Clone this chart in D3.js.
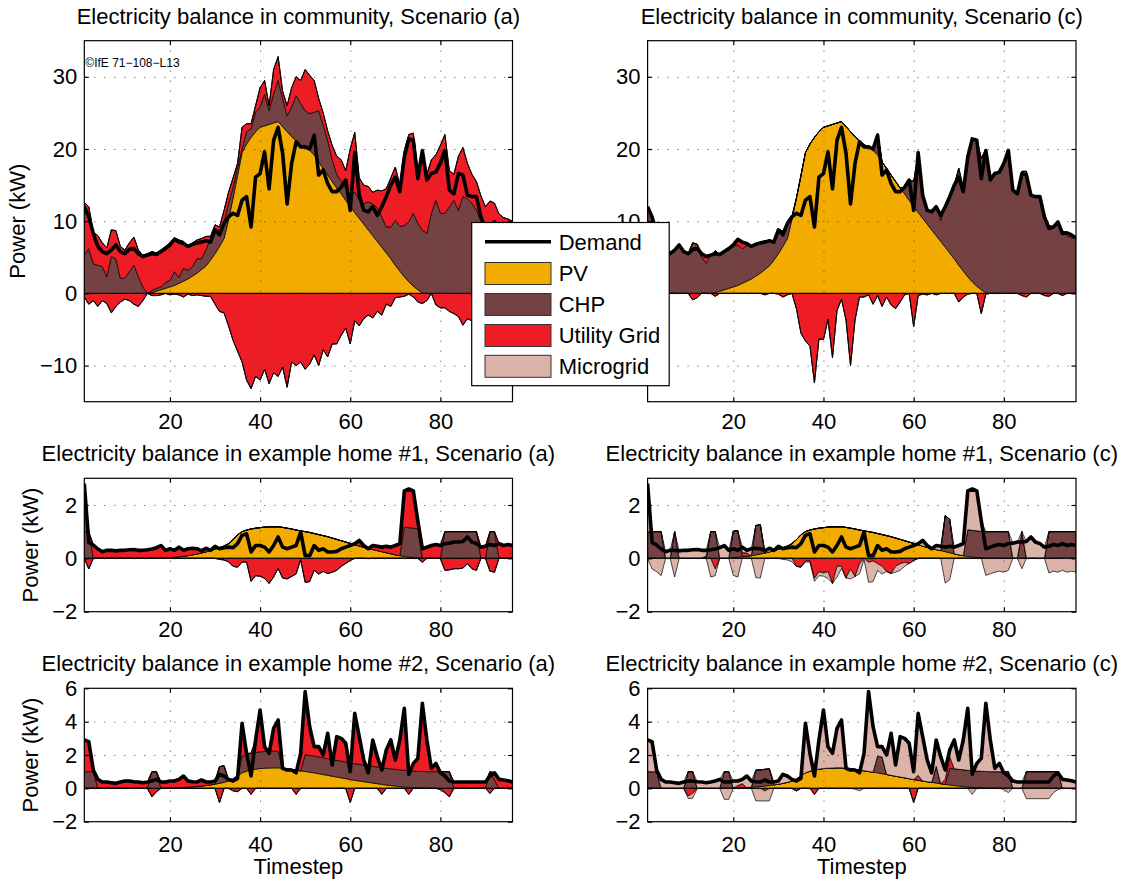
<!DOCTYPE html>
<html>
<head>
<meta charset="utf-8">
<script src="https://cdn.jsdelivr.net/npm/d3@7"></script>
<style>
  body { margin: 0; background: #fff; }
  svg { display: block; font-family: "Liberation Sans", Arial, Helvetica, sans-serif; }
</style>
</head>
<body>
<svg id="chart" width="1125" height="882"></svg>
<script>
// ---- data (timesteps 1..96, kW) ----
const timesteps = d3.range(1, 97);
const xTicks = [20, 40, 60, 80];
const noFlow = new Array(96).fill(0);

// community
const demandComm = [
  12.0, 10.6, 8.3, 6.5, 5.8, 5.5, 6.0, 6.7, 5.8, 5.5,
  6.1, 6.2, 5.5, 5.1, 5.3, 5.5, 5.4, 5.8, 6.2, 6.7,
  7.5, 7.1, 6.9, 6.5, 6.8, 7.0, 7.1, 7.3, 7.1, 8.8,
  8.1, 9.7, 10.6, 11.1, 10.8, 12.9, 13.4, 9.2, 16.1, 16.6,
  19.6, 14.5, 21.2, 23.0, 19.4, 12.4, 18.0, 21.0, 20.3, 20.3,
  20.0, 21.9, 16.4, 17.1, 15.2, 14.1, 14.1, 14.7, 15.7, 11.5,
  19.5, 13.6, 11.5, 11.3, 12.0, 10.8, 12.0, 13.4, 15.0, 16.1,
  14.1, 18.9, 21.4, 21.2, 15.9, 19.8, 15.7, 16.6, 16.8, 18.0,
  19.8, 14.3, 13.8, 16.6, 16.4, 13.6, 13.4, 13.4, 10.6, 9.0,
  9.2, 9.9, 8.3, 8.4, 8.1, 7.7];
const pvComm = [
  0, 0, 0, 0, 0, 0, 0, 0, 0, 0,
  0, 0, 0, 0, 0, 0.1, 0.3, 0.5, 0.7, 0.9,
  1.1, 1.4, 1.7, 2.0, 2.4, 2.8, 3.3, 3.8, 4.6, 5.5,
  6.5, 7.6, 10.2, 13.2, 16.3, 19.5, 20.7, 21.6, 22.4, 23.0,
  23.2, 23.4, 23.6, 23.8, 23.1, 22.4, 21.7, 21.1, 20.6, 20.2,
  19.8, 19.2, 18.2, 17.3, 16.4, 15.5, 14.6, 13.8, 12.9, 12.0,
  11.2, 10.4, 9.6, 8.8, 8.0, 7.2, 6.4, 5.6, 4.8, 3.9,
  3.1, 2.3, 1.6, 1.0, 0.5, 0.1, 0, 0, 0, 0,
  0, 0, 0, 0, 0, 0, 0, 0, 0, 0,
  0, 0, 0, 0, 0, 0];
const chpCommA = [
  5.3, 6.2, 4.1, 3.9, 3.7, 2.3, 5.1, 4.8, 2.1, 2.1,
  3.0, 3.9, 2.3, 0.9, 0, 0.3, 0.4, 0.4, 0.8, 0.9,
  1.9, 0.8, 1.8, 1.2, 1.3, 2.0, 1.5, 2.2, 3.0, 3.0,
  2.3, 2.3, 2.2, 1.5, 1.2, 0.5, 1.7, 1.2, 2.7, 2.8,
  4.4, 1.9, 4.0, 5.7, 3.9, 2.2, 4.1, 6.3, 5.7, 5.1,
  5.1, 5.9, 7.1, 6.0, 4.8, 3.0, 1.9, 1.7, 1.6, 1.4,
  2.9, 2.5, 2.8, 3.9, 4.4, 4.6, 4.2, 3.6, 4.4, 6.2,
  6.2, 7.1, 8.3, 10.1, 9.2, 8.7, 8.3, 11.1, 12.9, 11.1,
  11.1, 12.0, 12.9, 11.5, 13.4, 13.1, 12.5, 11.5, 10.0, 8.5,
  8.5, 9.0, 7.5, 7.5, 7.2, 7.0];
const gridInCommA = [
  7.3, 5.8, 4.4, 4.1, 3.3, 4.0, 3.7, 3.9, 4.4, 3.9,
  4.0, 3.9, 3.7, 4.4, 5.5, 5.4, 4.9, 5.1, 5.0, 5.2,
  4.7, 5.2, 3.7, 3.4, 3.3, 2.6, 2.8, 1.9, 0.3, 1.0,
  0.4, 1.6, 1.6, 1.3, 0.5, 3.0, 1.1, 0.7, 0.9, 2.7,
  1.9, 0.7, 3.4, 3.3, 1.0, 1.4, 2.7, 2.6, 3.2, 5.7,
  5.3, 4.4, 1.7, 1.7, 1.3, 2.0, 2.5, 3.0, 2.5, 6.6,
  8.2, 3.1, 2.6, 2.1, 1.6, 2.5, 3.6, 5.3, 6.8, 7.4,
  5.7, 10.4, 12.1, 11.1, 7.3, 10.7, 8.2, 7.4, 6.3, 9.4,
  10.9, 5.0, 3.6, 7.5, 6.8, 4.9, 4.0, 4.0, 3.5, 3.5,
  4.3, 3.5, 3.5, 3.0, 3.1, 3.0];
const gridOutCommA = [
  -0.5, -1.5, -1.0, -1.8, -1.0, -1.4, -2.7, -1.8, -1.2, -0.8,
  -1.0, -1.5, -1.8, -1.0, 0, -0.3, -0.3, -0.2, 0, -0.2,
  -0.1, -0.2, -0.5, -0.1, -0.3, -0.2, -0.3, -0.4, -0.4, -1.5,
  -2.5, -2.7, -4.5, -6.5, -8.0, -9.5, -12.0, -13.2, -11.5, -12.0,
  -10.5, -12.5, -11.0, -11.5, -10.2, -13.0, -9.5, -10.0, -9.5, -10.5,
  -9.8, -8.5, -10.0, -7.8, -8.8, -7.0, -7.0, -5.8, -4.8, -7.0,
  -3.8, -4.5, -3.5, -3.0, -3.4, -2.5, -3.0, -1.5, -1.8, -0.6,
  -0.5, -0.4, -0.1, -0.5, -1.2, -1.4, -1.0, 0, -1.6, -2.0,
  -2.0, -2.5, -2.8, -3.2, -4.4, -3.5, -3.8, -4.5, -3.5, -3.0,
  -2.5, -2.0, -1.5, -1.2, -1.0, -0.8];
const chpCommC = [
  11.5, 10.6, 8.3, 6.5, 5.9, 5.5, 6.0, 6.7, 5.8, 5.5,
  7.0, 6.8, 5.0, 4.2, 5.3, 5.8, 5.1, 5.3, 5.5, 5.8,
  5.6, 4.8, 4.9, 4.5, 4.4, 4.2, 4.0, 3.5, 2.5, 3.4,
  2.1, 2.3, 0.4, 0, 0, 0, 0, 0, 0, 0,
  0, 0, 0, 0, 0, 0, 0, 0, 0, 0.1,
  0.2, 3.0, 0, 0, 0, 0, 0, 0.9, 2.8, 3.5,
  7.8, 3.3, 2.1, 2.5, 4.2, 2.9, 5.6, 7.8, 10.2, 13.4,
  11.5, 16.7, 19.8, 20.2, 18.2, 19.8, 15.7, 16.6, 16.8, 18.0,
  19.8, 14.3, 13.8, 16.9, 16.9, 13.6, 13.4, 13.4, 10.9, 9.4,
  9.2, 9.9, 8.6, 8.0, 7.7, 7.7];
const gridInCommC = [
  0.5, 0, 0, 0, 0, 0, 0, 0, 0, 0,
  0, 0, 0.5, 0.9, 0, 0, 0, 0, 0, 0,
  0.8, 0.9, 0.3, 0, 0, 0, 0, 0, 0, 0,
  0, 0, 0, 0, 0, 0, 0, 0, 0, 0,
  0, 0, 0, 0, 0, 0, 0, 0, 0, 0,
  0, 0, 0, 0, 0, 0, 0, 0, 0, 0,
  0, 0, 0, 0, 0, 0.7, 0, 0, 0, 0,
  0, 0, 0, 0, 0, 0, 0, 0, 0, 0,
  0, 0, 0, 0, 0, 0, 0, 0, 0, 0,
  0, 0, 0, 0.4, 0.4, 0];
const gridOutCommC = [
  0, 0, 0, 0, -0.1, 0, 0, 0, 0, 0,
  -0.9, -0.6, 0, 0, 0, -0.4, 0, 0, 0, 0,
  0, 0, 0, 0, 0, 0, -0.2, 0, 0, -0.1,
  -0.5, -0.2, 0, -2.1, -5.5, -6.6, -7.3, -12.4, -6.3, -6.4,
  -3.6, -8.9, -2.4, -0.8, -3.7, -10.0, -3.7, -0.5, -0.5, -0.2,
  -1.5, -0.3, -1.8, -0.5, -1.6, -2.1, -1.2, -0.2, 0, -4.6,
  -0.3, -0.1, -0.2, 0, -0.2, 0, 0, 0, 0, -1.2,
  -0.5, -0.1, 0, 0, -2.8, -0.1, 0, 0, 0, 0,
  0, 0, 0, -0.3, -0.5, 0, 0, 0, -0.3, -0.4,
  0, 0, -0.3, 0, 0, 0];

// example home #1
const demandH1 = [
  2.8, 0.6, 0.5, 0.35, 0.25, 0.3, 0.3, 0.28, 0.3, 0.3,
  0.32, 0.33, 0.3, 0.3, 0.32, 0.35, 0.4, 0.48, 0.3, 0.36,
  0.3, 0.42, 0.3, 0.36, 0.38, 0.36, 0.28, 0.38, 0.3, 0.45,
  0.36, 0.4, 0.42, 0.4, 0.55, 0.86, 0.92, 0.24, 0.48, 0.48,
  0.42, 0.24, 0.48, 0.8, 0.42, 0.36, 0.42, 0.48, 0.98, 0.1,
  0.1, 0.48, 0.3, 0.36, 0.24, 0.24, 0.26, 0.36, 0.42, 0.48,
  0.55, 0.67, 0.48, 0.36, 0.48, 0.45, 0.42, 0.45, 0.42, 0.48,
  0.55, 2.53, 2.6, 2.53, 1.4, 0.36, 0.42, 0.48, 0.52, 0.48,
  0.55, 0.57, 0.61, 0.61, 0.63, 0.8, 0.61, 0.55, 0.42, 0.45,
  0.52, 0.48, 0.55, 0.48, 0.52, 0.48];
const pvH1 = [
  0, 0, 0, 0, 0, 0, 0, 0, 0, 0,
  0, 0, 0, 0, 0, 0, 0, 0, 0, 0.02,
  0.04, 0.06, 0.08, 0.1, 0.13, 0.16, 0.2, 0.24, 0.29, 0.34,
  0.4, 0.46, 0.55, 0.7, 0.88, 1.0, 1.06, 1.1, 1.13, 1.15,
  1.17, 1.18, 1.18, 1.18, 1.16, 1.13, 1.1, 1.06, 1.03, 1.0,
  0.97, 0.93, 0.89, 0.85, 0.81, 0.76, 0.71, 0.66, 0.61, 0.56,
  0.51, 0.46, 0.41, 0.37, 0.33, 0.29, 0.25, 0.21, 0.17, 0.13,
  0.1, 0.07, 0.05, 0.03, 0.01, 0, 0, 0, 0, 0,
  0, 0, 0, 0, 0, 0, 0, 0, 0, 0,
  0, 0, 0, 0, 0, 0];
const chpH1A = [
  1.0, 1.0, 0, 0, 0, 0, 0, 0, 0, 0,
  0, 0, 0, 0, 0, 0, 0, 0, 0, 0,
  0, 0, 0, 0, 0, 0, 0, 0, 0, 0,
  0, 0, 0, 0, 0, 0, 0, 0, 0, 0,
  0, 0, 0, 0, 0, 0, 0, 0, 0, 0,
  0, 0, 0, 0, 0, 0, 0, 0, 0, 0,
  0, 0, 0, 0, 0, 0, 0, 0, 0, 0,
  0, 1.1, 1.1, 1.1, 1.1, 0, 0, 0, 0, 0,
  1.0, 1.0, 1.0, 1.0, 1.0, 1.0, 1.0, 1.0, 0, 0,
  1.0, 1.0, 0, 0, 0, 0];
const gridInH1A = [
  1.8, 0, 0.5, 0.35, 0.25, 0.3, 0.3, 0.28, 0.3, 0.3,
  0.32, 0.33, 0.3, 0.3, 0.32, 0.35, 0.4, 0.48, 0.3, 0.34,
  0.26, 0.36, 0.22, 0.26, 0.25, 0.2, 0.08, 0.14, 0.01, 0.11,
  0, 0, 0, 0, 0, 0, 0, 0, 0, 0,
  0, 0, 0, 0, 0, 0, 0, 0, 0, 0,
  0, 0, 0, 0, 0, 0, 0, 0, 0, 0,
  0.04, 0.21, 0.07, 0, 0.15, 0.16, 0.17, 0.24, 0.25, 0.35,
  0.45, 1.36, 1.45, 1.4, 0.29, 0.36, 0.42, 0.48, 0.52, 0.48,
  0, 0, 0, 0, 0, 0, 0, 0, 0.42, 0.45,
  0, 0, 0.55, 0.48, 0.52, 0.48];
const gridOutH1A = [
  0, -0.4, 0, 0, 0, 0, 0, 0, 0, 0,
  0, 0, 0, 0, 0, 0, 0, 0, 0, 0,
  0, 0, 0, 0, 0, 0, 0, 0, 0, 0,
  -0.04, -0.06, -0.13, -0.3, -0.33, -0.14, -0.14, -0.86, -0.65, -0.67,
  -0.75, -0.94, -0.7, -0.38, -0.74, -0.77, -0.68, -0.58, -0.05, -0.9,
  -0.87, -0.45, -0.59, -0.49, -0.57, -0.52, -0.45, -0.3, -0.19, -0.08,
  0, 0, 0, -0.01, 0, 0, 0, 0, 0, 0,
  0, 0, 0, 0, 0, -0.15, 0, 0, 0, 0,
  -0.45, -0.43, -0.39, -0.39, -0.37, -0.2, -0.39, -0.45, 0, 0,
  -0.48, -0.52, 0, 0, 0, 0];
const chpH1C = [
  1.0, 1.0, 1.0, 1.0, 0, 0, 1.0, 0, 0, 0,
  0, 0, 0, 0, 1.0, 1.0, 0, 0, 0, 1.0,
  1.0, 0, 0, 0, 1.1, 1.1, 0, 0, 0, 0,
  0, 0, 0, 0, 0, 0, 0, 0, 0, 0,
  0, 0, 0, 0, 0, 0, 0, 0, 0, 0,
  0, 0, 0, 0, 0, 0, 0, 0, 0, 0,
  0, 0, 0, 0, 0, 0, 1.35, 1.25, 0, 0,
  0, 1.0, 1.0, 1.0, 1.0, 1.0, 1.0, 1.0, 1.0, 1.0,
  1.0, 0, 0, 1.0, 0, 0, 0, 0, 0, 1.0,
  1.0, 1.0, 1.0, 1.0, 1.0, 1.0];
const gridInH1C = [
  0, 0, 0, 0, 0, 0, 0, 0, 0, 0,
  0, 0, 0, 0.1, 0, 0, 0, 0, 0, 0,
  0, 0.16, 0.12, 0, 0, 0, 0, 0, 0, 0,
  0, 0, 0, 0, 0, 0, 0, 0, 0, 0,
  0, 0, 0, 0, 0, 0, 0, 0, 0, 0,
  0, 0, 0, 0, 0, 0, 0, 0, 0, 0,
  0, 0, 0, 0, 0, 0, 0, 0, 0, 0,
  0, 0, 0, 0, 0, 0, 0, 0, 0, 0,
  0, 0, 0, 0, 0, 0, 0, 0, 0, 0,
  0, 0, 0, 0, 0, 0];
const microInH1C = [
  1.8, 0, 0, 0, 0.25, 0.3, 0, 0.28, 0.3, 0.3,
  0.32, 0.33, 0.3, 0.2, 0, 0, 0.4, 0.48, 0.3, 0,
  0, 0.2, 0.1, 0.26, 0, 0, 0.08, 0.14, 0.01, 0.11,
  0, 0, 0, 0, 0, 0, 0, 0, 0, 0,
  0, 0, 0, 0, 0, 0, 0, 0, 0, 0,
  0, 0, 0, 0, 0, 0, 0, 0, 0, 0,
  0.04, 0.21, 0.07, 0, 0.15, 0.16, 0, 0, 0.25, 0.35,
  0.45, 1.46, 1.55, 1.5, 0.39, 0, 0, 0, 0, 0,
  0, 0.57, 0.61, 0, 0.63, 0.8, 0.61, 0.55, 0.42, 0,
  0, 0, 0, 0, 0, 0];
const gridOutH1C = [
  0, 0, 0, 0, 0, 0, 0, 0, 0, 0,
  0, 0, 0, 0, 0, -0.4, 0, 0, 0, 0,
  0, 0, 0, 0, 0, 0, 0, 0, 0, 0,
  0, 0, 0, -0.3, -0.33, -0.1, -0.1, -0.75, -0.5, -0.55,
  -0.5, -0.94, -0.3, -0.3, -0.74, -0.4, -0.68, -0.2, 0, -0.15,
  -0.1, -0.2, -0.3, -0.49, -0.57, -0.3, -0.2, -0.15, -0.19, -0.08,
  0, 0, 0, 0, 0, 0, 0, 0, 0, 0,
  0, 0, 0, 0, 0, 0, 0, 0, 0, 0,
  0, 0, 0, 0, 0, 0, 0, 0, 0, 0,
  0, 0, 0, 0, 0, 0];
const microOutH1C = [
  0, -0.4, -0.5, -0.65, 0, 0, -0.7, 0, 0, 0,
  0, 0, 0, 0, -0.7, -0.25, 0, 0, 0, -0.64,
  -0.7, 0, 0, 0, -0.72, -0.74, 0, 0, 0, 0,
  -0.04, -0.06, -0.13, 0, 0, -0.04, -0.04, -0.11, -0.15, -0.12,
  -0.25, 0, -0.4, -0.08, 0, -0.37, 0, -0.38, -0.05, -0.75,
  -0.77, -0.25, -0.29, 0, 0, -0.22, -0.25, -0.15, 0, 0,
  0, 0, 0, 0, 0, 0, -0.93, -0.8, 0, 0,
  0, 0, 0, 0, 0, -0.64, -0.58, -0.52, -0.48, -0.52,
  -0.45, 0, 0, -0.39, 0, 0, 0, 0, 0, -0.55,
  -0.48, -0.52, -0.45, -0.52, -0.48, -0.52];

// example home #2
const demandH2 = [
  2.9, 2.8, 1.1, 0.54, 0.38, 0.38, 0.34, 0.3, 0.38, 0.44,
  0.44, 0.4, 0.38, 0.34, 0.38, 0.44, 0.54, 0.38, 0.38, 0.44,
  0.44, 0.54, 0.74, 0.44, 0.4, 0.38, 0.5, 0.38, 0.38, 0.44,
  0.84, 0.74, 0.54, 0.44, 0.6, 3.9, 2.1, 0.74, 2.9, 4.7,
  2.5, 2.1, 3.6, 4.1, 1.2, 1.1, 1.1, 0.93, 2.1, 5.8,
  3.7, 2.5, 2.5, 2.0, 3.3, 1.4, 3.1, 3.0, 2.7, 1.0,
  4.5, 3.1, 1.7, 0.93, 2.9, 1.9, 1.1, 2.3, 2.9, 1.7,
  2.9, 4.8, 0.84, 1.5, 1.8, 5.1, 2.9, 1.2, 1.5, 0.93,
  0.74, 0.44, 0.38, 0.38, 0.38, 0.38, 0.38, 0.38, 0.38, 0.38,
  0.74, 0.93, 0.54, 0.5, 0.45, 0.38];
const pvH2 = [
  0, 0, 0, 0, 0, 0, 0, 0, 0, 0,
  0, 0, 0, 0, 0, 0, 0, 0, 0, 0,
  0.02, 0.03, 0.05, 0.07, 0.09, 0.11, 0.14, 0.17, 0.21, 0.25,
  0.3, 0.36, 0.44, 0.55, 0.75, 0.93, 1.03, 1.1, 1.15, 1.19,
  1.21, 1.22, 1.23, 1.23, 1.2, 1.17, 1.13, 1.09, 1.05, 1.01,
  0.97, 0.93, 0.88, 0.83, 0.78, 0.73, 0.68, 0.63, 0.58, 0.53,
  0.48, 0.44, 0.4, 0.36, 0.32, 0.28, 0.24, 0.2, 0.17, 0.14,
  0.11, 0.08, 0.06, 0.04, 0.02, 0.01, 0, 0, 0, 0,
  0, 0, 0, 0, 0, 0, 0, 0, 0, 0,
  0, 0, 0, 0, 0, 0];
const chpH2A = [
  1, 1, 1, 0, 0, 0, 0, 0, 0, 0,
  0, 0, 0, 0, 0, 1, 1, 0, 0, 0,
  0, 0, 0, 0, 0, 0, 0, 0, 0, 0,
  1, 1, 0, 0, 0, 1, 1, 1, 1, 1,
  1, 1, 1, 1, 0, 0, 0, 0, 0, 1,
  1, 1, 1, 1, 1, 1, 1, 1, 1, 1,
  1, 1, 1, 1, 1, 1, 1, 1, 1, 1,
  1, 1, 1, 1, 1, 1, 1, 1, 1, 1,
  1, 1, 0, 0, 0, 0, 0, 0, 0, 0,
  1, 0.5, 0, 0, 0, 0];
const gridInH2A = [
  1.9, 1.8, 0.1, 0.54, 0.38, 0.38, 0.34, 0.3, 0.38, 0.44,
  0.44, 0.4, 0.38, 0.34, 0.38, 0, 0, 0.38, 0.38, 0.44,
  0.42, 0.51, 0.69, 0.37, 0.31, 0.27, 0.36, 0.21, 0.17, 0.19,
  0, 0, 0.1, 0, 0, 1.97, 0.07, 0, 0.75, 2.51,
  0.29, 0, 1.37, 1.87, 0, 0, 0, 0, 1.05, 3.79,
  1.73, 0.57, 0.62, 0.17, 1.52, 0, 1.42, 1.37, 1.12, 0,
  3.02, 1.66, 0.3, 0, 1.58, 0.62, 0, 1.1, 1.73, 0.56,
  1.79, 3.72, 0, 0.46, 0.78, 4.09, 1.9, 0.2, 0.5, 0,
  0, 0, 0.38, 0.38, 0.38, 0.38, 0.38, 0.38, 0.38, 0.38,
  0, 0.43, 0.54, 0.5, 0.45, 0.38];
const gridOutH2A = [
  0, 0, 0, 0, 0, 0, 0, 0, 0, 0,
  0, 0, 0, 0, 0, -0.5, -0.2, 0, 0, 0,
  0, 0, 0, 0, 0, 0, 0, 0, 0, 0,
  -0.85, 0, 0, -0.15, -0.2, 0, 0, -0.36, 0, 0,
  0, 0, 0, 0, 0, 0, 0, -0.36, 0, 0,
  0, 0, 0, 0, 0, 0, 0, 0, 0, -0.85,
  0, 0, 0, 0, 0, 0, -0.36, 0, 0, 0,
  0, 0, -0.36, 0, 0, 0, 0, 0, 0, -0.07,
  -0.26, -0.5, 0, 0, 0, 0, 0, 0, 0, 0,
  -0.3, 0, 0, 0, 0, 0];
const chpH2C = [
  1, 1, 1, 0, 0, 0, 0, 0, 0, 1,
  1, 0, 0, 0, 0, 0, 0, 1, 1, 0,
  0, 0, 0, 0, 1, 1, 1, 1, 0, 0,
  0, 0, 0, 0, 0, 0, 0, 0, 0, 0,
  0, 0, 0, 0, 0, 0, 0, 0, 0, 0,
  0, 1, 1, 0, 0, 0, 0, 0, 0, 0,
  0, 0, 0, 0, 1, 0, 0, 1, 1, 1,
  1, 1, 1, 1, 1, 1, 1, 1, 1, 1,
  1, 0, 0, 0, 1, 1, 1, 1, 1, 1,
  1, 1, 0, 0, 0, 0];
const gridInH2C = [
  0, 0, 0, 0, 0, 0, 0, 0, 0, 0,
  0, 0, 0, 0, 0, 0, 0, 0, 0, 0,
  0.15, 0.25, 0, 0, 0, 0, 0, 0, 0, 0,
  0, 0, 0, 0, 0, 0, 0, 0, 0, 0,
  0, 0, 0, 0, 0, 0, 0, 0, 0, 0,
  0, 0, 0, 0, 0, 0, 0, 0, 0, 0,
  0.3, 0, 0, 0, 0, 0, 0.3, 0.7, 0, 0,
  0, 0, 0, 0, 0, 0, 0, 0, 0, 0,
  0, 0, 0, 0, 0, 0, 0, 0, 0, 0,
  0, 0, 0, 0, 0, 0];
const microInH2C = [
  1.9, 1.8, 0.1, 0.54, 0.38, 0.38, 0.34, 0.3, 0.38, 0,
  0, 0.4, 0.38, 0.34, 0.38, 0.44, 0.54, 0, 0, 0.44,
  0.27, 0.26, 0.69, 0.37, 0, 0, 0, 0, 0.17, 0.19,
  0.54, 0.38, 0.1, 0, 0, 2.97, 1.07, 0, 1.75, 3.51,
  1.29, 0.88, 2.37, 2.87, 0, 0, 0, 0, 1.05, 4.79,
  2.73, 0.57, 0.62, 1.17, 2.52, 0.67, 2.42, 2.37, 2.12, 0.47,
  3.72, 2.66, 1.3, 0.57, 1.58, 1.62, 0.56, 0.4, 1.73, 0.56,
  1.79, 3.72, 0, 0.46, 0.78, 4.09, 1.9, 0.2, 0.5, 0,
  0, 0.44, 0.38, 0.38, 0, 0, 0, 0, 0, 0,
  0, 0, 0.54, 0.5, 0.45, 0.38];
const gridOutH2C = [
  0, 0, 0, 0, 0, 0, 0, 0, 0, -0.46,
  -0.3, 0, 0, 0, 0, 0, 0, 0, 0, 0,
  0, 0, 0, 0, 0, 0, -0.16, 0, 0, 0,
  0, 0, 0, -0.16, 0, 0, 0, -0.36, 0, 0,
  0, 0, 0, 0, 0, 0, 0, 0, 0, 0,
  0, 0, 0, 0, 0, 0, 0, 0, 0, -0.85,
  0, 0, 0, 0, 0, 0, 0, 0, 0, 0,
  0, 0, 0, 0, 0, 0, 0, 0, 0, 0,
  0, 0, 0, 0, 0, 0, 0, 0, 0, 0,
  0, 0, 0, 0, 0, 0];
const microOutH2C = [
  0, 0, 0, 0, 0, 0, 0, 0, 0, -0.15,
  -0.3, 0, 0, 0, 0, 0, 0, -0.66, -0.66, 0,
  0, 0, 0, 0, -0.75, -0.75, -0.6, -0.75, 0, 0,
  0, 0, 0, 0, 0, 0, 0, 0, 0, 0,
  0, 0, 0, 0, 0, 0, -0.05, -0.15, 0, 0,
  0, 0, 0, 0, 0, 0, 0, 0, 0, 0,
  0, 0, 0, 0, 0, 0, 0, 0, 0, 0,
  0, 0, -0.36, 0, 0, 0, 0, 0, 0, -0.07,
  -0.26, 0, 0, 0, -0.62, -0.62, -0.62, -0.62, -0.62, -0.62,
  -0.26, -0.07, 0, 0, 0, 0];

const legendLabels = ["Demand", "PV", "CHP", "Utility Grid", "Microgrid"];

// ---- layout ----
const colors = { pv: "#f2ac00", chp: "#744242", grid: "#ee1c25", micro: "#dbb3a9" };
const cols = [{ x0: 84.3, x1: 512.5 }, { x0: 647.6, x1: 1076 }];
const rows = [
  { y0: 40.7, y1: 401.7, domain: [-15, 35], ticks: [-10, 0, 10, 20, 30], titleY: 24, xLabDy: 27.5, yLabX: 25 },
  { y0: 478.3, y1: 611.7, domain: [-2, 3], ticks: [-2, 0, 2], titleY: 460.5, xLabDy: 25.5, yLabX: 37.5 },
  { y0: 688.3, y1: 821.7, domain: [-2, 6], ticks: [-2, 0, 2, 4, 6], titleY: 671, xLabDy: 30, yLabX: 37.5 }
];

const panels = [
  { row: 0, col: 0, title: "Electricity balance in community, Scenario (a)", demand: demandComm, pv: pvComm, chp: chpCommA, gridIn: gridInCommA, microIn: noFlow, gridOut: gridOutCommA, microOut: noFlow },
  // the legend sits over the lowest tick label of this panel
  { row: 0, col: 1, title: "Electricity balance in community, Scenario (c)", demand: demandComm, pv: pvComm, chp: chpCommC, gridIn: gridInCommC, microIn: noFlow, gridOut: gridOutCommC, microOut: noFlow, coveredLabels: [-10] },
  { row: 1, col: 0, title: "Electricity balance in example home #1, Scenario (a)", demand: demandH1, pv: pvH1, chp: chpH1A, gridIn: gridInH1A, microIn: noFlow, gridOut: gridOutH1A, microOut: noFlow },
  { row: 1, col: 1, title: "Electricity balance in example home #1, Scenario (c)", demand: demandH1, pv: pvH1, chp: chpH1C, gridIn: gridInH1C, microIn: microInH1C, gridOut: gridOutH1C, microOut: microOutH1C },
  { row: 2, col: 0, title: "Electricity balance in example home #2, Scenario (a)", demand: demandH2, pv: pvH2, chp: chpH2A, gridIn: gridInH2A, microIn: noFlow, gridOut: gridOutH2A, microOut: noFlow },
  { row: 2, col: 1, title: "Electricity balance in example home #2, Scenario (c)", demand: demandH2, pv: pvH2, chp: chpH2C, gridIn: gridInH2C, microIn: microInH2C, gridOut: gridOutH2C, microOut: microOutH2C }
];

const posKeys = ["pv", "chp", "gridIn", "microIn"];
const negKeys = ["gridOut", "microOut"];
const fillOf = { pv: colors.pv, chp: colors.chp, gridIn: colors.grid, microIn: colors.micro, gridOut: colors.grid, microOut: colors.micro };
const fmt = d3.format("d");

const svg = d3.select("#chart");
svg.append("rect").attr("width", 1125).attr("height", 882).attr("fill", "#fff");

panels.forEach((p, pi) => {
  const r = rows[p.row], c = cols[p.col];
  const x = d3.scaleLinear().domain([1, 96]).range([c.x0, c.x1]);
  const y = d3.scaleLinear().domain(r.domain).range([r.y1, r.y0]);
  const data = timesteps.map((t, i) => ({
    t, pv: p.pv[i], chp: p.chp[i], gridIn: p.gridIn[i], microIn: p.microIn[i],
    gridOut: p.gridOut[i], microOut: p.microOut[i], demand: p.demand[i]
  }));

  const g = svg.append("g");
  const clipId = "clip" + pi;
  g.append("clipPath").attr("id", clipId).append("rect")
    .attr("x", c.x0).attr("y", r.y0).attr("width", c.x1 - c.x0).attr("height", r.y1 - r.y0);
  const plot = g.append("g").attr("clip-path", `url(#${clipId})`);

  const area = d3.area().x(d => x(d.data.t)).y0(d => y(d[0])).y1(d => y(d[1]));
  const pos = d3.stack().keys(posKeys)(data);
  const neg = d3.stack().keys(negKeys)(data);
  plot.selectAll("path.band").data(pos.concat(neg)).enter().append("path")
    .attr("class", "band")
    .attr("d", area)
    .attr("fill", s => fillOf[s.key])
    .attr("stroke", "#000")
    .attr("stroke-width", 0.7)
    .attr("stroke-linejoin", "round");

  plot.append("line")
    .attr("x1", c.x0).attr("x2", c.x1).attr("y1", y(0)).attr("y2", y(0))
    .attr("stroke", "#000").attr("stroke-width", 1);

  // dotted grid
  const h = r.y1 - r.y0, w = c.x1 - c.x0;
  const gridX = g.append("g").attr("transform", `translate(0,${r.y1})`)
    .call(d3.axisBottom(x).tickValues(xTicks).tickSize(-h).tickFormat(""));
  const gridY = g.append("g").attr("transform", `translate(${c.x0},0)`)
    .call(d3.axisLeft(y).tickValues(r.ticks.filter(v => v > r.domain[0] && v < r.domain[1])).tickSize(-w).tickFormat(""));
  [gridX, gridY].forEach(a => {
    a.select(".domain").remove();
    a.selectAll("line").attr("stroke", "#444").attr("stroke-width", 1).attr("stroke-dasharray", "1,9");
  });

  // demand line
  plot.append("path")
    .datum(data)
    .attr("d", d3.line().x(d => x(d.t)).y(d => y(d.demand)))
    .attr("fill", "none")
    .attr("stroke", "#000")
    .attr("stroke-width", 3.6)
    .attr("stroke-linejoin", "round");

  // inward ticks on all sides
  const tickLen = 4.5;
  const inTicks = [
    [d3.axisBottom(x).tickValues(xTicks), `translate(0,${r.y1})`],
    [d3.axisTop(x).tickValues(xTicks), `translate(0,${r.y0})`],
    [d3.axisLeft(y).tickValues(r.ticks), `translate(${c.x0},0)`],
    [d3.axisRight(y).tickValues(r.ticks), `translate(${c.x1},0)`]
  ];
  inTicks.forEach(([ax, tr]) => {
    const a = g.append("g").attr("transform", tr).call(ax.tickSize(-tickLen).tickFormat(""));
    a.select(".domain").remove();
    a.selectAll("line").attr("stroke", "#000").attr("stroke-width", 1.2);
  });

  // box
  g.append("rect")
    .attr("x", c.x0).attr("y", r.y0).attr("width", w).attr("height", h)
    .attr("fill", "none").attr("stroke", "#000").attr("stroke-width", 1.2);

  // tick labels
  const covered = p.coveredLabels || [];
  const xLab = g.append("g").attr("transform", `translate(0,${r.y1})`)
    .call(d3.axisBottom(x).tickValues(xTicks).tickSize(0).tickPadding(r.xLabDy - 15.6).tickFormat(fmt));
  const yLab = g.append("g").attr("transform", `translate(${c.x0},0)`)
    .call(d3.axisLeft(y).tickValues(r.ticks.filter(v => !covered.includes(v))).tickSize(0).tickPadding(7).tickFormat(fmt));
  [xLab, yLab].forEach(a => {
    a.select(".domain").remove();
    a.attr("font-size", 22).attr("font-family", null);
    a.selectAll("text").attr("fill", "#000");
  });

  // title
  g.append("text")
    .attr("x", (c.x0 + c.x1) / 2).attr("y", r.titleY)
    .attr("text-anchor", "middle").attr("font-size", 22).attr("fill", "#000")
    .text(p.title);

  if (p.col === 0) {
    g.append("text")
      .attr("transform", `translate(${r.yLabX},${(r.y0 + r.y1) / 2}) rotate(-90)`)
      .attr("text-anchor", "middle").attr("font-size", 22).attr("fill", "#000")
      .text("Power (kW)");
  }
  if (p.row === 2) {
    g.append("text")
      .attr("x", (c.x0 + c.x1) / 2).attr("y", 874)
      .attr("text-anchor", "middle").attr("font-size", 22).attr("fill", "#000")
      .text("Timestep");
  }
  if (pi === 0) {
    g.append("text")
      .attr("x", c.x0 + 1).attr("y", 67)
      .attr("font-size", 12).attr("fill", "#000")
      .text("\u00a9IfE 71\u2212108\u2212L13");
  }
});

// legend
const legend = svg.append("g").attr("transform", "translate(471.7,222.5)");
legend.append("rect").attr("width", 197.5).attr("height", 163.2)
  .attr("fill", "#fff").attr("stroke", "#000").attr("stroke-width", 1.2);
const swatchFill = [null, colors.pv, colors.chp, colors.grid, colors.micro];
const rowCenters = [19.3, 51, 82, 113, 143.8];
legendLabels.forEach((lab, i) => {
  const cy = rowCenters[i];
  if (i === 0) {
    legend.append("line").attr("x1", 13.3).attr("x2", 79.3).attr("y1", cy).attr("y2", cy)
      .attr("stroke", "#000").attr("stroke-width", 3.6);
  } else {
    legend.append("rect").attr("x", 13.3).attr("y", cy - 11).attr("width", 66).attr("height", 22)
      .attr("fill", swatchFill[i]).attr("stroke", "#333").attr("stroke-width", 1);
  }
  legend.append("text").attr("x", 87).attr("y", cy).attr("dy", "0.36em")
    .attr("font-size", 22).attr("fill", "#000").text(lab);
});
</script>
</body>
</html>
